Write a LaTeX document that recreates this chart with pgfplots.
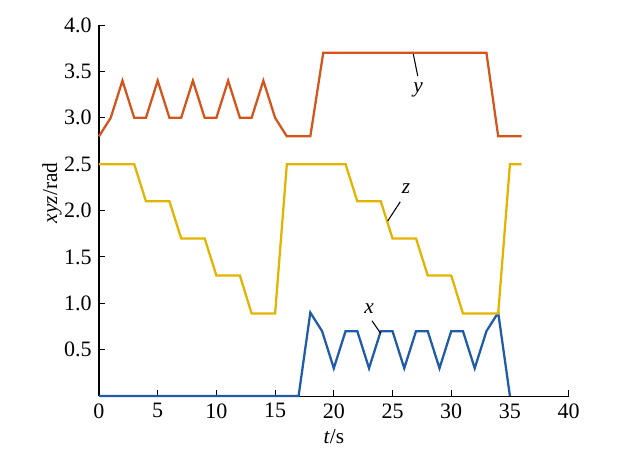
\documentclass[border=0pt]{standalone}
\usepackage{fontspec}
\setmainfont{Liberation Serif}
\usepackage{pgfplots}
\pgfplotsset{compat=1.18}
\definecolor{cx}{RGB}{30,92,170}
\definecolor{cy}{RGB}{212,84,28}
\definecolor{cz}{RGB}{226,180,0}
\begin{document}
\fontsize{16}{19}\selectfont
\begin{tikzpicture}
\begin{axis}[
  x=8.805pt, y=69.56pt,
  xmin=0, xmax=40, ymin=0, ymax=4,
  axis lines=left,
  axis line style={-, line width=0.8pt},
  tick align=inside,
  major tick length=4.5pt,
  tick style={black, line width=0.8pt},
  xtick={0,5,...,40},
  ytick={0.5,1,1.5,2,2.5,3,3.5,4},
  xticklabel={\pgfmathprintnumber[assume math mode=true]{\tick}},
  yticklabel={\pgfmathprintnumber[assume math mode=true,fixed,fixed zerofill,precision=1]{\tick}},
  ticklabel style={font=\fontsize{16.5}{19}\selectfont},
  clip=false,
  every axis plot/.append style={line width=1.7pt, line join=miter},
]
\path (axis cs:-8.43,-0.798) rectangle (axis cs:44.97,4.27);
\addplot[cx] coordinates {(0,0) (17,0) (18,0.9) (19,0.7) (20,0.3) (21,0.7) (22,0.7) (23,0.3) (24,0.7) (25,0.7) (26,0.3) (27,0.7) (28,0.7) (29,0.3) (30,0.7) (31,0.7) (32,0.3) (33,0.7) (34,0.9) (35,0)};
\addplot[cy] coordinates {(0,2.8) (1,3.0) (2,3.4) (3,3.0) (4,3.0) (5,3.4) (6,3.0) (7,3.0) (8,3.4) (9,3.0) (10,3.0) (11,3.4) (12,3.0) (13,3.0) (14,3.4) (15,3.0) (16,2.8) (18,2.8) (19.1,3.7) (33,3.7) (34,2.8) (36,2.8)};
\addplot[cz] coordinates {(0,2.5) (3,2.5) (4,2.1) (6,2.1) (7,1.7) (9,1.7) (10,1.3) (12,1.3) (13,0.89) (15,0.89) (16,2.5) (21,2.5) (22,2.1) (24,2.1) (25,1.7) (27,1.7) (28,1.3) (30,1.3) (31,0.89) (34,0.89) (35,2.5) (36,2.5)};
\draw[black, line width=0.8pt] (axis cs:26.77,3.687) -- (axis cs:27.15,3.45);
\node at (axis cs:27.17,3.30) {\textit{y}};
\draw[black, line width=0.8pt] (axis cs:25.66,2.095) -- (axis cs:24.59,1.887);
\node at (axis cs:26.15,2.24) {\textit{z}};
\draw[black, line width=0.8pt] (axis cs:23.25,0.812) -- (axis cs:23.99,0.676);
\node at (axis cs:23.0,0.94) {\textit{x}};
\node[rotate=90, inner sep=0pt] at (axis cs:-4.0,2.19) {\textit{xyz}/rad};
\node[anchor=base] at (axis cs:20,-0.507) {\textit{t}/s};
\end{axis}
\end{tikzpicture}
\end{document}
